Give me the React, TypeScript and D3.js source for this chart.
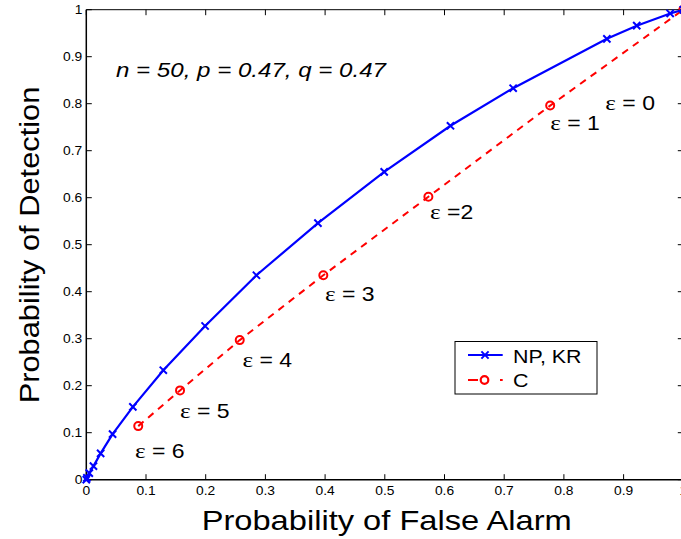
import React from "react";
import * as d3 from "d3";

const npFalseAlarm = [0, 0.001, 0.005, 0.012, 0.024, 0.044, 0.078, 0.129, 0.199, 0.285, 0.388, 0.499, 0.61, 0.715, 0.872, 0.922, 0.978, 1];
const npDetection = [0, 0.004, 0.014, 0.029, 0.056, 0.097, 0.155, 0.233, 0.327, 0.435, 0.546, 0.655, 0.753, 0.833, 0.938, 0.966, 0.992, 1];
const cFalseAlarm = [0.087, 0.157, 0.257, 0.397, 0.573, 0.777, 1];
const cDetection = [0.114, 0.19, 0.297, 0.435, 0.602, 0.796, 1];
const epsLabels = ["ε = 6", "ε = 5", "ε = 4", "ε = 3", "ε =2", "ε = 1", "ε = 0"];
const xTicks = [0, 0.1, 0.2, 0.3, 0.4, 0.5, 0.6, 0.7, 0.8, 0.9, 1];
const yTicks = [0, 0.1, 0.2, 0.3, 0.4, 0.5, 0.6, 0.7, 0.8, 0.9, 1];

const SX = 1.15;

export default function App() {
  const W = 681, H = 539;
  const L = 86.3, R = 683.3, T = 9.7, B = 479.7;
  const x = d3.scaleLinear().domain([0, 1]).range([L, R]);
  const y = d3.scaleLinear().domain([0, 1]).range([B, T]);
  const np = npFalseAlarm.map((v, i) => [v, npDetection[i]] as [number, number]);
  const c = cFalseAlarm.map((v, i) => [v, cDetection[i]] as [number, number]);
  const line = d3.line<[number, number]>().x(d => x(d[0])).y(d => y(d[1]));
  const font = "Liberation Sans, Arial, Helvetica, sans-serif";
  const serif = "Liberation Serif, Times New Roman, serif";
  const labelOff: [number, number][] = [[-3.3, 32.3], [0, 27.7], [2.7, 27], [1.7, 25.7], [1.7, 22.3], [0, 24], [-78, 100]];
  const xs = 3.6;
  const cross = (cx: number, cy: number) =>
    `M${cx - xs},${cy - xs}L${cx + xs},${cy + xs}M${cx - xs},${cy + xs}L${cx + xs},${cy - xs}`;
  return (
    <svg width={W} height={H} style={{ display: "block", position: "absolute", left: 0, top: 0 }}>
      <rect x={0} y={0} width={W} height={H} fill="#fff" />
      {/* axes box */}
      <line x1={L} y1={T} x2={R} y2={T} stroke="#000" strokeWidth={1} />
      <line x1={R} y1={T} x2={R} y2={B} stroke="#000" strokeWidth={1} />
      <line x1={L} y1={T} x2={L} y2={B} stroke="#000" strokeWidth={1.5} />
      <line x1={L} y1={B} x2={R} y2={B} stroke="#000" strokeWidth={1.5} />
      {xTicks.map(t => (
        <g key={"x" + t}>
          <line x1={x(t)} x2={x(t)} y1={B} y2={B - 5.5} stroke="#000" />
          <line x1={x(t)} x2={x(t)} y1={T} y2={T + 5.5} stroke="#000" />
          <text transform={`translate(${x(t)},${B + 15.5}) scale(${SX},1)`} textAnchor="middle" fontFamily={font} fontSize={12}>{String(t)}</text>
        </g>
      ))}
      {yTicks.map(t => (
        <g key={"y" + t}>
          <line x1={L} x2={L + 5.5} y1={y(t)} y2={y(t)} stroke="#000" />
          <line x1={R} x2={R - 5.5} y1={y(t)} y2={y(t)} stroke="#000" />
          <text transform={`translate(${L - 4},${y(t) + 4}) scale(${SX},1)`} textAnchor="end" fontFamily={font} fontSize={12}>{String(t)}</text>
        </g>
      ))}
      {/* C curve */}
      <path d={line(c) || ""} fill="none" stroke="#ff0000" strokeWidth={2} strokeDasharray="7,6" />
      {c.map((d, i) => (
        <circle key={"c" + i} cx={x(d[0])} cy={y(d[1])} r={4} fill="none" stroke="#ff0000" strokeWidth={2} />
      ))}
      {/* NP curve */}
      <path d={line(np) || ""} fill="none" stroke="#0000ff" strokeWidth={2.2} />
      {np.map((d, i) => (
        <path key={"n" + i} d={cross(x(d[0]), y(d[1]))} stroke="#0000ff" strokeWidth={2} />
      ))}
      {/* epsilon labels */}
      {c.map((d, i) => {
        const s = epsLabels[i];
        return (
          <text key={"e" + i} transform={`translate(${x(d[0]) + labelOff[i][0]},${y(d[1]) + labelOff[i][1]}) scale(${SX},1)`} fontFamily={font} fontSize={20}>
            <tspan fontFamily={serif} fontSize={22}>{s.charAt(0)}</tspan>
            <tspan>{s.slice(1)}</tspan>
          </text>
        );
      })}
      {/* annotation */}
      <text x={116} y={77} fontFamily={font} fontSize={20} fontStyle="italic" textLength={270} lengthAdjust="spacingAndGlyphs">n = 50, p = 0.47, q = 0.47</text>
      {/* legend */}
      <rect x={455} y={341.5} width={142} height={52.5} fill="#fff" stroke="#000" strokeWidth={1} />
      <line x1={468} x2={502.7} y1={355} y2={355} stroke="#0000ff" strokeWidth={2} />
      <path d={cross(485, 355)} stroke="#0000ff" strokeWidth={2} />
      <text transform={`translate(513,363.3) scale(${SX},1)`} fontFamily={font} fontSize={18.6}>NP, KR</text>
      <line x1={468} x2={502.7} y1={380} y2={380} stroke="#ff0000" strokeWidth={2} strokeDasharray="10,22,10" />
      <circle cx={484.5} cy={380} r={3.8} fill="#fff" stroke="#ff0000" strokeWidth={2.2} />
      <text transform={`translate(513,387.3) scale(${SX},1)`} fontFamily={font} fontSize={18.6}>C</text>
      {/* axis labels */}
      <text x={201.7} y={530} fontFamily={font} fontSize={28} textLength={370} lengthAdjust="spacingAndGlyphs">Probability of False Alarm</text>
      <text transform={`translate(39,245) rotate(-90) scale(1.1,1)`} textAnchor="middle" fontFamily={font} fontSize={28}>Probability of Detection</text>
    </svg>
  );
}
